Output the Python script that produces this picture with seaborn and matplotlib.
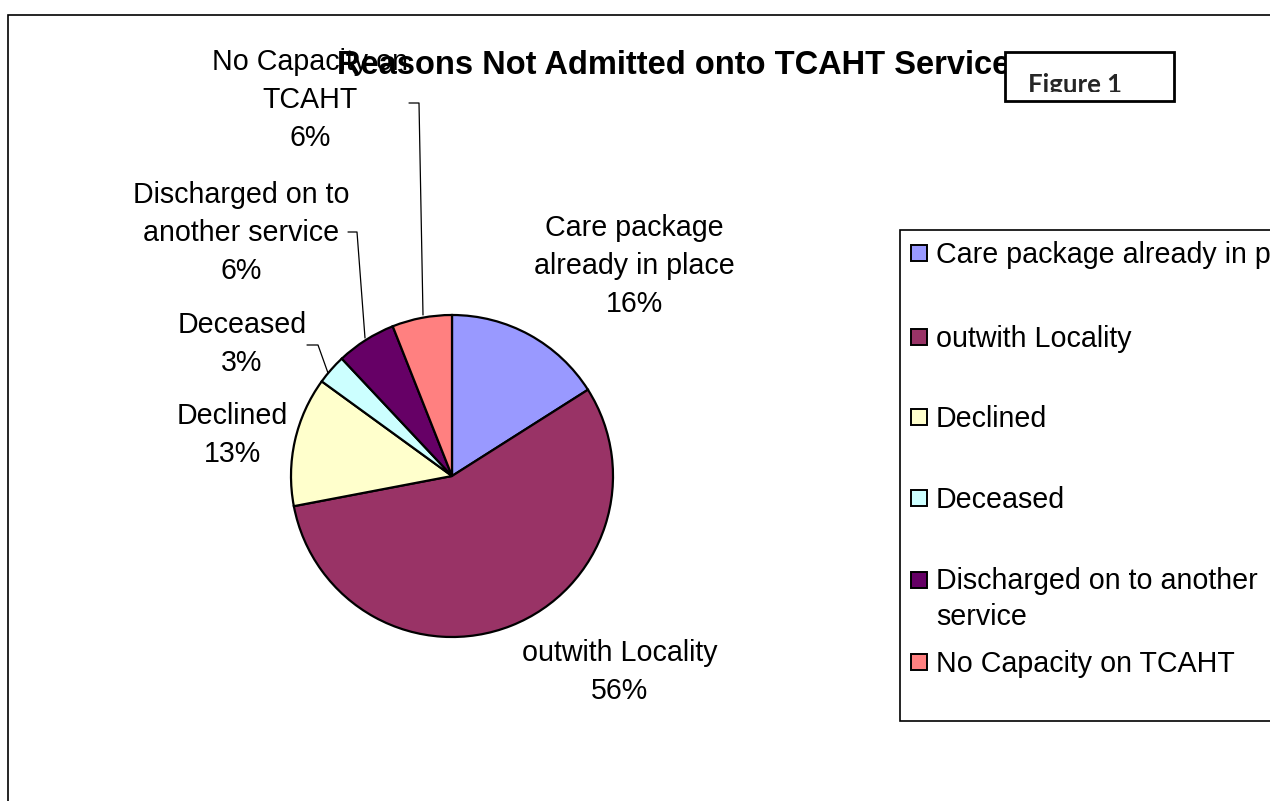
import matplotlib
matplotlib.use("Agg")
import matplotlib.pyplot as plt
from matplotlib.patches import Rectangle
import seaborn as sns

# Reasons referrals were not admitted onto the TCAHT service
categories = [
    "Care package already in place",
    "outwith Locality",
    "Declined",
    "Deceased",
    "Discharged on to another service",
    "No Capacity on TCAHT",
]
shares = [16, 56, 13, 3, 6, 6]
slice_colors = ["#9999FF", "#993366", "#FFFFCC", "#CCFFFF", "#660066", "#FF8080"]

pie_label_text = [
    "Care package\nalready in place",
    "outwith Locality",
    "Declined",
    "Deceased",
    "Discharged on to\nanother service",
    "No Capacity on\nTCAHT",
]
legend_text = [
    "Care package already in place",
    "outwith Locality",
    "Declined",
    "Deceased",
    "Discharged on to another\nservice",
    "No Capacity on TCAHT",
]
title_text = "Reasons Not Admitted onto TCAHT Service"

sns.set_theme(style="white")
plt.rcParams["font.family"] = ["Liberation Sans", "DejaVu Sans"]
palette = sns.color_palette(slice_colors)

W, H = 1270, 801
FS = 20.6
fig = plt.figure(figsize=(W / 100, H / 100), dpi=100)
ax = fig.add_axes([0, 0, 1, 1])


def Y(y):
    # work in top-down pixel rows
    return H - y


ax.pie(
    shares,
    colors=palette,
    startangle=90,
    counterclock=False,
    center=(452, Y(476)),
    radius=161,
    wedgeprops=dict(edgecolor="black", linewidth=1.6),
)
ax.set_xlim(0, W)
ax.set_ylim(0, H)
ax.set_aspect("equal")
ax.axis("off")

# chart area frame (runs past the right and bottom edges)
ax.add_patch(Rectangle((8, Y(900)), 1400, 885, fill=False, edgecolor="black", lw=1.2, zorder=1))

# slice labels
label_pos = [(634, 266), (620, 672), (232, 435), (242, 344), (241, 233), (310, 100)]
for txt, v, (x, y) in zip(pie_label_text, shares, label_pos):
    ax.text(x, Y(y), f"{txt}\n{v}%", ha="center", va="center", fontsize=FS,
            linespacing=1.44, color="black", zorder=5)

# leader lines for the small slices
leaders = [
    [(409, 103), (419, 103), (423, 315)],
    [(348, 232), (357, 232), (365, 338)],
    [(307, 345), (318, 345), (328, 373)],
]
for pts in leaders:
    ax.plot([p[0] for p in pts], [Y(p[1]) for p in pts], color="black", lw=0.9, zorder=4)

# title
ax.text(674, Y(74), title_text, ha="center", va="baseline", fontsize=23.5,
        fontweight="bold", color="black", zorder=6)

# "Figure 1" tag box; its text is cut off by the inner margin of the box
ax.add_patch(Rectangle((1005, Y(101)), 169, 49, facecolor="white", edgecolor="black",
                       lw=2, zorder=8))
clip_rect = Rectangle((1005, Y(92)), 169, 40, transform=ax.transData)
fig_tag = ax.text(1028, Y(93), "Figure 1", ha="left", va="baseline", fontsize=18.5,
                  fontweight="bold", family=["Lato", "DejaVu Sans"], zorder=9,
                  clip_on=True)
fig_tag.set_clip_path(clip_rect)

# legend
ax.add_patch(Rectangle((900, Y(721)), 600, 491, facecolor="white", edgecolor="black",
                       lw=1.2, zorder=2))
legend_rows = [253, 337, 417, 498, 580, 662]
line_step = 35
for txt, col, y in zip(legend_text, palette, legend_rows):
    ax.add_patch(Rectangle((911, Y(y) - 8), 16, 16, facecolor=col, edgecolor="black",
                           lw=1.4, zorder=3))
    extra = txt.count("\n") * line_step
    ax.text(936, Y(y + 10 + extra), txt, ha="left", va="baseline", fontsize=FS,
            linespacing=1.35, color="black", zorder=3)

fig.savefig("out.png", dpi=100)
